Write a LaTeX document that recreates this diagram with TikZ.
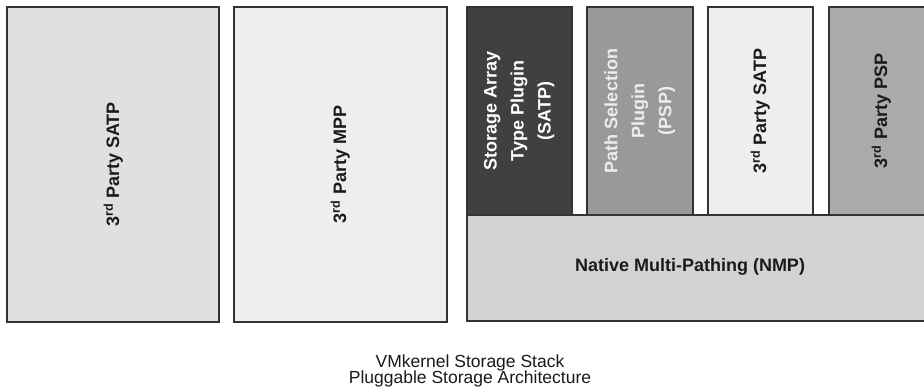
\documentclass[tikz,border=0pt]{standalone}
\usepackage{fontspec}
\setmainfont{Liberation Sans}
\definecolor{edge}{HTML}{333333}
\definecolor{inktext}{HTML}{1A1A1A}
\definecolor{fillA}{HTML}{E0E0E0}
\definecolor{fillB}{HTML}{EEEEEE}
\definecolor{fillDark}{HTML}{404040}
\definecolor{fillMid}{HTML}{999999}
\definecolor{fillPSP}{HTML}{AAAAAA}
\definecolor{fillNMP}{HTML}{D3D3D3}
\tikzset{
  layerbox/.style={draw=edge, line width=2bp, rectangle, inner sep=0pt,
    font=\fontsize{18bp}{27bp}\selectfont\bfseries, align=center, text=inktext},
  upright/.style={layerbox, rotate=90},
  caption/.style={font=\fontsize{17.5bp}{16bp}\selectfont, anchor=base, inner sep=0pt, text=inktext},
}
\newcommand{\thirdp}{3\textsuperscript{rd}}
\begin{document}
\begin{tikzpicture}[x=1bp, y=1bp]
  \useasboundingbox (0,0) rectangle (924,391);
  \fill[white] (0,0) rectangle (924,391);
  \clip (0,0) rectangle (924,391);

  % left-hand stacks
  \node[upright, fill=fillA, minimum width=315bp, minimum height=211.5bp] (tpsatp) at (113.25,226.5) {\thirdp{} Party SATP};
  \node[upright, fill=fillB, minimum width=315bp, minimum height=212.5bp] (tpmpp) at (340.25,226.5) {\thirdp{} Party MPP};

  % native multipathing base
  \node[layerbox, fill=fillNMP, minimum width=468bp, minimum height=106bp] (nmp) at (701,123) {};
  \node[font=\fontsize{18bp}{27bp}\selectfont\bfseries, text=inktext, inner sep=0pt] (nmplabel) at (690,124) {Native Multi-Pathing (NMP)};

  % plugins on top of NMP
  \node[upright, fill=fillDark, text=white, minimum width=208bp, minimum height=104.5bp] (satp) at (519.25,280) {Storage Array\\Type Plugin\\(SATP)};
  \node[upright, fill=fillMid, text=white!93!black, minimum width=208bp, minimum height=105.5bp] (psp) at (639.75,280) {Path Selection\\Plugin\\(PSP)};
  \node[upright, fill=fillB, minimum width=208bp, minimum height=105.5bp] (tsatp) at (760.25,280) {\thirdp{} Party SATP};
  \node[upright, fill=fillPSP, minimum width=208bp, minimum height=105.5bp] (tpsp) at (881.25,280) {\thirdp{} Party PSP};

  % caption
  \node[caption] (cap1) at (470,24) {VMkernel Storage Stack};
  \node[caption] (cap2) at (470,8) {Pluggable Storage Architecture};
\end{tikzpicture}
\end{document}
